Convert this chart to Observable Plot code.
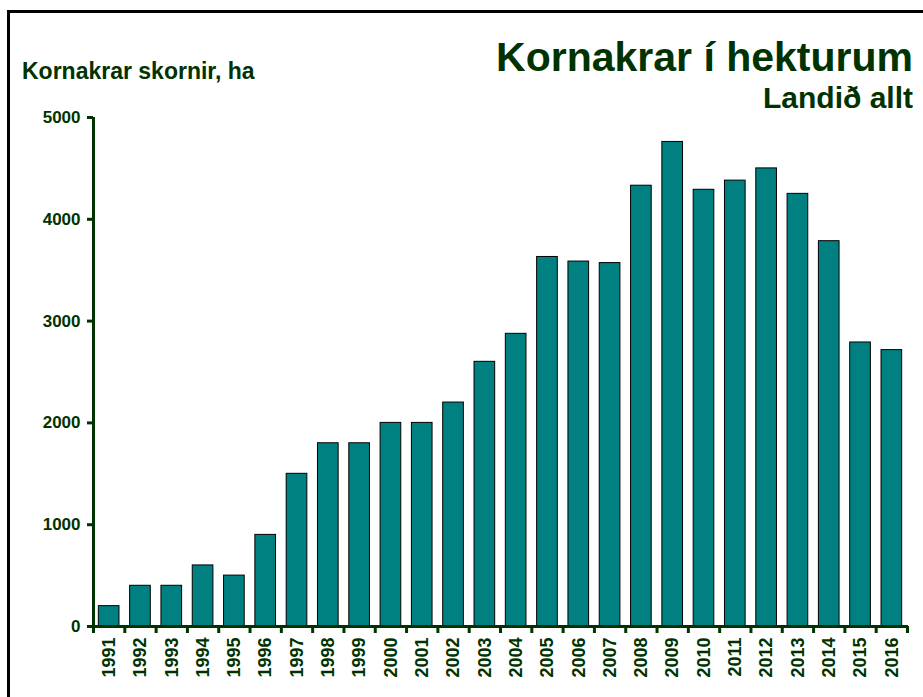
<!DOCTYPE html>
<html>
<head>
<meta charset="utf-8">
<script src="https://cdn.jsdelivr.net/npm/d3@7"></script>
<script src="https://cdn.jsdelivr.net/npm/@observablehq/plot@0.6"></script>
<style>
  html, body { margin: 0; padding: 0; background: #fff; }
  #wrap { position: relative; width: 923px; height: 697px; overflow: hidden; font-family: "Liberation Sans", Arial, sans-serif; }
  #frame { position: absolute; left: 7px; top: 10px; width: 2000px; height: 2000px; border-left: 3px solid #000; border-top: 3px solid #000; box-sizing: border-box; }
  .t { position: absolute; font-weight: bold; color: #003300; line-height: 1; white-space: nowrap; }
  #title { right: 10px; top: 37px; font-size: 41px; }
  #subtitle { right: 10px; top: 83px; font-size: 30px; }
  #ylabel { left: 22px; top: 60px; font-size: 23px; }
  #chart { position: absolute; left: 0; top: 0; }
</style>
</head>
<body>
<div id="wrap">
  <div id="frame"></div>
  <div id="chart"></div>
  <div class="t" id="title">Kornakrar í hekturum</div>
  <div class="t" id="subtitle">Landið allt</div>
  <div class="t" id="ylabel">Kornakrar skornir, ha</div>
</div>
<script>
const years = [1991,1992,1993,1994,1995,1996,1997,1998,1999,2000,2001,2002,2003,2004,2005,2006,2007,2008,2009,2010,2011,2012,2013,2014,2015,2016];
const hectares = [200,400,400,600,500,900,1500,1800,1800,2000,2000,2200,2600,2875,3630,3585,3570,4330,4760,4290,4380,4500,4250,3785,2790,2715];
const yTicks = [0,1000,2000,3000,4000,5000];

const data = years.map((year, i) => ({year, value: hectares[i]}));
const boundaries = years.map(y => y - 0.5).concat([years[years.length - 1] + 0.5]);
const ink = "#003300";
const half = 0.33;

const chart = Plot.plot({
  width: 923,
  height: 697,
  marginLeft: 93,
  marginRight: 16,
  marginTop: 117,
  marginBottom: 71,
  style: {fontFamily: "'Liberation Sans', Arial, sans-serif", fontWeight: "bold", fontSize: "17px", color: ink, background: "transparent"},
  x: {domain: [boundaries[0], boundaries[boundaries.length - 1]]},
  y: {domain: [0, 5000]},
  marks: [
    Plot.rectY(data, {x1: d => d.year - half, x2: d => d.year + half, y: "value", fill: "#008080", stroke: "#000", strokeWidth: 1}),
    Plot.axisY({ticks: yTicks, tickSize: 6, tickPadding: 7, tickFormat: d3.format("d"), strokeWidth: 3, label: null}),
    Plot.axisX({ticks: boundaries, tickSize: 7, tickFormat: () => "", strokeWidth: 3, label: null}),
    Plot.axisX({ticks: years, tickSize: 0, tickPadding: 11, tickRotate: -90, fontSize: 18, tickFormat: d => String(d), label: null}),
    Plot.ruleX([boundaries[0]], {stroke: ink, strokeWidth: 3}),
    Plot.ruleY([0], {x1: boundaries[0] - 0.16, x2: boundaries[boundaries.length - 1] + 0.03, stroke: ink, strokeWidth: 3})
  ]
});
document.getElementById("chart").appendChild(chart);
</script>
</body>
</html>
